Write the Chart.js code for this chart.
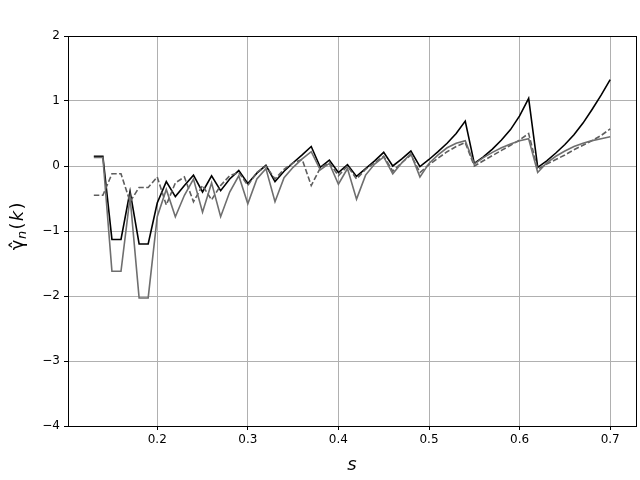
<!DOCTYPE html>
<html>
<head>
<meta charset="utf-8">
<script src="https://cdn.jsdelivr.net/npm/chart.js@4"></script>
<style>
  html, body { margin: 0; padding: 0; background: #fff; }
  #wrap { width: 640px; height: 480px; position: relative; }
</style>
</head>
<body>
<div id="wrap"><canvas id="chart" width="640" height="480"></canvas></div>
<script>
// s values 0.13 .. 0.70
const sValues = [
  0.13, 0.14, 0.15, 0.16, 0.17, 0.18, 0.19, 0.20, 0.21, 0.22,
  0.23, 0.24, 0.25, 0.26, 0.27, 0.28, 0.29, 0.30, 0.31, 0.32,
  0.33, 0.34, 0.35, 0.36, 0.37, 0.38, 0.39, 0.40, 0.41, 0.42,
  0.43, 0.44, 0.45, 0.46, 0.47, 0.48, 0.49, 0.50, 0.51, 0.52,
  0.53, 0.54, 0.55, 0.56, 0.57, 0.58, 0.59, 0.60, 0.61, 0.62,
  0.63, 0.64, 0.65, 0.66, 0.67, 0.68, 0.69, 0.70
]

const blackSeries = [
  0.15, 0.15, -1.13, -1.13, -0.39, -1.20, -1.20, -0.57, -0.24, -0.47,
  -0.30, -0.14, -0.40, -0.15, -0.38, -0.20, -0.07, -0.27, -0.11, 0.01,
  -0.24, -0.08, 0.05, 0.17, 0.30, -0.02, 0.09, -0.10, 0.02, -0.16,
  -0.04, 0.08, 0.21, 0.00, 0.11, 0.23, -0.01, 0.10, 0.22, 0.35,
  0.50, 0.69, 0.04, 0.14, 0.26, 0.40, 0.56, 0.77, 1.04, -0.02,
  0.08, 0.20, 0.33, 0.48, 0.66, 0.87, 1.09, 1.33
]

const graySeries = [
  0.13, 0.13, -1.62, -1.62, -0.48, -2.03, -2.03, -0.78, -0.36, -0.78,
  -0.45, -0.20, -0.71, -0.26, -0.78, -0.40, -0.15, -0.58, -0.20, -0.04,
  -0.55, -0.18, -0.02, 0.11, 0.22, -0.06, 0.04, -0.28, -0.04, -0.51,
  -0.14, 0.03, 0.14, -0.12, 0.05, 0.19, -0.17, 0.04, 0.17, 0.28,
  0.35, 0.39, 0.03, 0.13, 0.21, 0.28, 0.34, 0.39, 0.42, -0.10,
  0.05, 0.15, 0.23, 0.30, 0.35, 0.39, 0.42, 0.45
]

const dashedSeries = [
  -0.45, -0.45, -0.12, -0.12, -0.55, -0.33, -0.33, -0.17, -0.60, -0.26,
  -0.17, -0.55, -0.30, -0.52, -0.30, -0.15, -0.10, -0.30, -0.10, 0.00,
  -0.20, -0.05, 0.05, 0.10, -0.30, -0.03, 0.05, -0.15, 0.00, -0.20,
  -0.05, 0.05, 0.15, -0.08, 0.05, 0.17, -0.10, 0.02, 0.12, 0.22,
  0.30, 0.36, 0.00, 0.08, 0.16, 0.24, 0.32, 0.40, 0.50, -0.05,
  0.03, 0.10, 0.17, 0.25, 0.32, 0.39, 0.47, 0.57
]

const xTicks = [0.2, 0.3, 0.4, 0.5, 0.6, 0.7]
const yTicks = [-4, -3, -2, -1, 0, 1, 2]

const toPoints = (ys) => ys.map((y, i) => ({ x: sValues[i], y }))
const fixMinus = (v) => String(v).replace('-', '\u2212')

// full box frame + axis labels like matplotlib
const framePlugin = {
  id: 'frame',
  afterDraw(chart) {
    const { ctx, chartArea: a } = chart
    ctx.save()
    ctx.strokeStyle = '#000'
    ctx.lineWidth = 1
    ctx.strokeRect(a.left + 0.5, a.top + 0.5, a.right - a.left, a.bottom - a.top)

    ctx.fillStyle = '#000'
    ctx.textAlign = 'center'
    ctx.textBaseline = 'middle'
    ctx.font = 'italic 18px "DejaVu Sans"'
    ctx.fillText('s', (a.left + a.right) / 2, 465)

    ctx.translate(18, (a.top + a.bottom) / 2)
    ctx.rotate(-Math.PI / 2)
    ctx.font = '18px "DejaVu Sans"'
    ctx.fillText('\u03B3\u0302', -14, 0)
    ctx.font = 'italic 13px "DejaVu Sans"'
    ctx.fillText('n', -4, 5)
    ctx.font = '18px "DejaVu Sans"'
    ctx.fillText('(', 5, 0)
    ctx.font = 'italic 18px "DejaVu Sans"'
    ctx.fillText('k', 15, 0)
    ctx.font = '18px "DejaVu Sans"'
    ctx.fillText(')', 25, 0)
    ctx.restore()
  }
}

const ctx = document.getElementById('chart').getContext('2d')
new Chart(ctx, {
  type: 'line',
  data: {
    datasets: [
      {
        label: 'gray',
        data: toPoints(graySeries),
        borderColor: '#6e6e6e',
        borderWidth: 1.6,
        pointRadius: 0,
        tension: 0,
      },
      {
        label: 'dashed',
        data: toPoints(dashedSeries),
        borderColor: '#5e5e5e',
        borderWidth: 1.6,
        borderDash: [5.5, 2.4],
        pointRadius: 0,
        tension: 0,
      },
      {
        label: 'black',
        data: toPoints(blackSeries),
        borderColor: '#000',
        borderWidth: 1.6,
        pointRadius: 0,
        tension: 0,
      },
    ]
  },
  options: {
    responsive: false,
    animation: false,
    layout: { padding: { top: 36, right: 4, left: 0, bottom: 0 } },
    plugins: {
      legend: { display: false },
      tooltip: { enabled: false },
    },
    scales: {
      x: {
        type: 'linear',
        min: 0.1015,
        max: 0.7285,
        afterBuildTicks: (scale) => { scale.ticks = xTicks.map(v => ({ value: v })) },
        afterFit: (scale) => { scale.height = 54 },
        grid: { color: '#b0b0b0', lineWidth: 1, tickColor: '#000', tickLength: 4 },
        border: { display: false },
        ticks: {
          color: '#000',
          font: { family: 'DejaVu Sans', size: 12 },
          padding: 3,
          maxRotation: 0,
          callback: (v) => v.toFixed(1),
        }
      },
      y: {
        min: -4,
        max: 2,
        afterBuildTicks: (scale) => { scale.ticks = yTicks.map(v => ({ value: v })) },
        afterFit: (scale) => { scale.width = 68 },
        grid: { color: '#b0b0b0', lineWidth: 1, tickColor: '#000', tickLength: 4 },
        border: { display: false },
        ticks: {
          color: '#000',
          font: { family: 'DejaVu Sans', size: 12 },
          padding: 4,
          callback: (v) => fixMinus(v),
        }
      }
    }
  },
  plugins: [framePlugin]
})
</script>
</body>
</html>
